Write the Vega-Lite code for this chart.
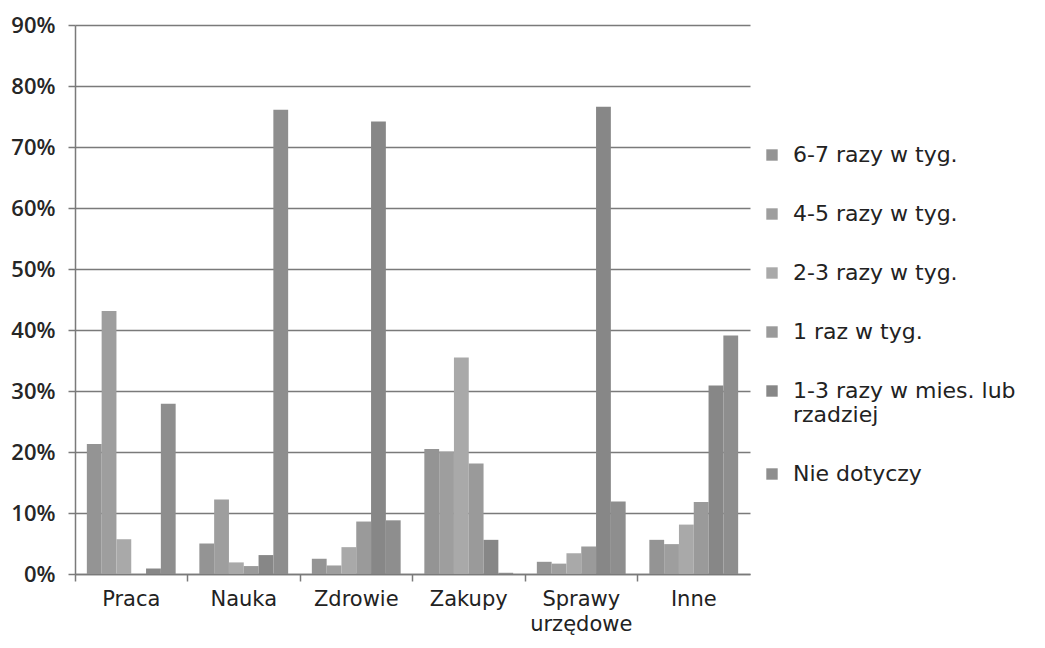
{
  "$schema": "https://vega.github.io/schema/vega-lite/v6.json",
  "width": 675,
  "height": 549,
  "autosize": "none",
  "padding": {"left": 75, "top": 25, "right": 295, "bottom": 74},
  "background": "white",
  "data": {
    "values": [
      {"kat": "Praca", "seria": "6-7 razy w tyg.", "v": 0.213},
      {"kat": "Praca", "seria": "4-5 razy w tyg.", "v": 0.431},
      {"kat": "Praca", "seria": "2-3 razy w tyg.", "v": 0.057},
      {"kat": "Praca", "seria": "1 raz w tyg.", "v": 0.0},
      {"kat": "Praca", "seria": "1-3 razy w mies. lub rzadziej", "v": 0.009},
      {"kat": "Praca", "seria": "Nie dotyczy", "v": 0.279},
      {"kat": "Nauka", "seria": "6-7 razy w tyg.", "v": 0.050},
      {"kat": "Nauka", "seria": "4-5 razy w tyg.", "v": 0.122},
      {"kat": "Nauka", "seria": "2-3 razy w tyg.", "v": 0.019},
      {"kat": "Nauka", "seria": "1 raz w tyg.", "v": 0.013},
      {"kat": "Nauka", "seria": "1-3 razy w mies. lub rzadziej", "v": 0.031},
      {"kat": "Nauka", "seria": "Nie dotyczy", "v": 0.761},
      {"kat": "Zdrowie", "seria": "6-7 razy w tyg.", "v": 0.025},
      {"kat": "Zdrowie", "seria": "4-5 razy w tyg.", "v": 0.014},
      {"kat": "Zdrowie", "seria": "2-3 razy w tyg.", "v": 0.044},
      {"kat": "Zdrowie", "seria": "1 raz w tyg.", "v": 0.086},
      {"kat": "Zdrowie", "seria": "1-3 razy w mies. lub rzadziej", "v": 0.742},
      {"kat": "Zdrowie", "seria": "Nie dotyczy", "v": 0.088},
      {"kat": "Zakupy", "seria": "6-7 razy w tyg.", "v": 0.205},
      {"kat": "Zakupy", "seria": "4-5 razy w tyg.", "v": 0.201},
      {"kat": "Zakupy", "seria": "2-3 razy w tyg.", "v": 0.355},
      {"kat": "Zakupy", "seria": "1 raz w tyg.", "v": 0.181},
      {"kat": "Zakupy", "seria": "1-3 razy w mies. lub rzadziej", "v": 0.056},
      {"kat": "Zakupy", "seria": "Nie dotyczy", "v": 0.002},
      {"kat": "Sprawy urzędowe", "seria": "6-7 razy w tyg.", "v": 0.020},
      {"kat": "Sprawy urzędowe", "seria": "4-5 razy w tyg.", "v": 0.017},
      {"kat": "Sprawy urzędowe", "seria": "2-3 razy w tyg.", "v": 0.034},
      {"kat": "Sprawy urzędowe", "seria": "1 raz w tyg.", "v": 0.045},
      {"kat": "Sprawy urzędowe", "seria": "1-3 razy w mies. lub rzadziej", "v": 0.766},
      {"kat": "Sprawy urzędowe", "seria": "Nie dotyczy", "v": 0.119},
      {"kat": "Inne", "seria": "6-7 razy w tyg.", "v": 0.056},
      {"kat": "Inne", "seria": "4-5 razy w tyg.", "v": 0.049},
      {"kat": "Inne", "seria": "2-3 razy w tyg.", "v": 0.081},
      {"kat": "Inne", "seria": "1 raz w tyg.", "v": 0.118},
      {"kat": "Inne", "seria": "1-3 razy w mies. lub rzadziej", "v": 0.309},
      {"kat": "Inne", "seria": "Nie dotyczy", "v": 0.391}
    ]
  },
  "mark": {"type": "bar", "cornerRadius": 0},
  "encoding": {
    "x": {
      "field": "kat",
      "type": "nominal",
      "sort": ["Praca", "Nauka", "Zdrowie", "Zakupy", "Sprawy urzędowe", "Inne"],
      "scale": {"paddingInner": 0, "paddingOuter": 0},
      "axis": {
        "title": null,
        "labelAngle": 0,
        "bandPosition": 0,
        "labelExpr": "datum.label == 'Sprawy urzędowe' ? ['Sprawy', 'urzędowe'] : datum.label",
        "labelFont": "DejaVu Sans",
        "labelFontSize": 21,
        "labelColor": "#222222",
        "labelPadding": 7,
        "labelLineHeight": 25,
        "domainColor": "#7a7a7a",
        "domainWidth": 1.5,
        "tickColor": "#7a7a7a",
        "tickWidth": 1.5,
        "tickSize": 7,
        "grid": false
      }
    },
    "xOffset": {
      "field": "seria",
      "type": "nominal",
      "sort": ["6-7 razy w tyg.", "4-5 razy w tyg.", "2-3 razy w tyg.", "1 raz w tyg.", "1-3 razy w mies. lub rzadziej", "Nie dotyczy"],
      "scale": {"paddingInner": 0, "paddingOuter": 0.8}
    },
    "y": {
      "field": "v",
      "type": "quantitative",
      "scale": {"domain": [0, 0.9], "nice": false},
      "axis": {
        "title": null,
        "format": ".0%",
        "values": [0, 0.1, 0.2, 0.3, 0.4, 0.5, 0.6, 0.7, 0.8, 0.9],
        "labelFont": "Open Sans",
        "labelFontSize": 22,
        "labelFontWeight": 600,
        "labelColor": "#262626",
        "labelPadding": 13,
        "domainColor": "#7a7a7a",
        "domainWidth": 1.5,
        "tickColor": "#7a7a7a",
        "tickWidth": 1.5,
        "tickSize": 7,
        "gridColor": "#7a7a7a",
        "gridWidth": 1.5
      }
    },
    "color": {
      "field": "seria",
      "type": "nominal",
      "sort": ["6-7 razy w tyg.", "4-5 razy w tyg.", "2-3 razy w tyg.", "1 raz w tyg.", "1-3 razy w mies. lub rzadziej", "Nie dotyczy"],
      "scale": {
        "domain": ["6-7 razy w tyg.", "4-5 razy w tyg.", "2-3 razy w tyg.", "1 raz w tyg.", "1-3 razy w mies. lub rzadziej", "Nie dotyczy"],
        "range": ["#949494", "#9e9e9e", "#a9a9a9", "#9a9a9a", "#878787", "#8e8e8e"]
      },
      "legend": {
        "title": null,
        "orient": "none",
        "legendX": 686,
        "legendY": 119,
        "symbolType": "square",
        "symbolSize": 130,
        "symbolStrokeWidth": 0,
        "labelFont": "DejaVu Sans",
        "labelFontSize": 22,
        "labelColor": "#222222",
        "labelLimit": 300,
        "labelOffset": 10,
        "rowPadding": 37,
        "labelExpr": "datum.label == '1-3 razy w mies. lub rzadziej' ? ['1-3 razy w mies. lub', 'rzadziej'] : datum.label"
      }
    }
  },
  "config": {
    "view": {"stroke": null}
  }
}
